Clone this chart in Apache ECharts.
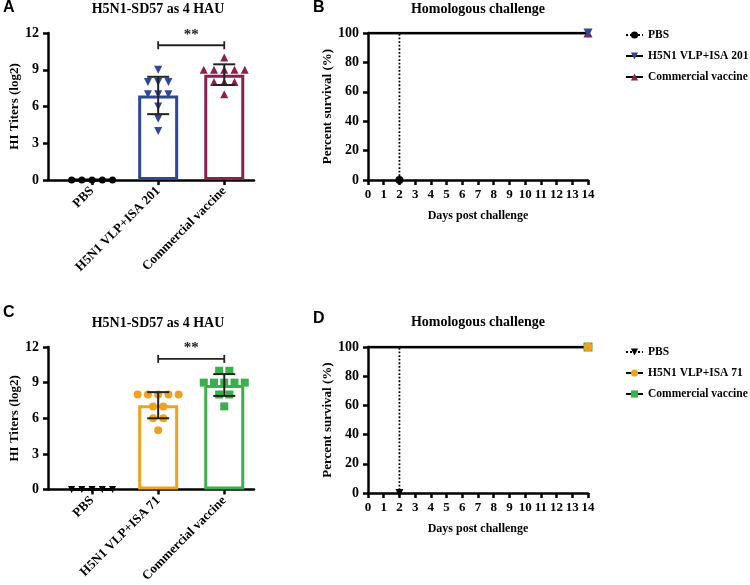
<!DOCTYPE html>
<html><head><meta charset="utf-8">
<script src="https://cdn.jsdelivr.net/npm/echarts@6/dist/echarts.min.js"></script>
<style>html,body{margin:0;padding:0;background:#fff}#c{width:750px;height:585px}</style>
</head><body><div id="c"></div>
<script>
// ---------- data ----------
const groupsA = ['PBS', 'H5N1 VLP+ISA 201', 'Commercial vaccine'];
const groupsC = ['PBS', 'H5N1 VLP+ISA 71', 'Commercial vaccine'];
const hiA_PBS = [0, 0, 0, 0, 0];
const hiA_VLP = [9, 8, 8, 8, 7, 7, 7, 6, 5, 4];
const hiA_COM = [10, 9, 9, 9, 9, 9, 8, 8, 8, 7];
const hiC_PBS = [0, 0, 0, 0, 0];
const hiC_VLP = [8, 8, 8, 8, 8, 7, 7, 6, 6, 5];
const hiC_COM = [10, 10, 9, 9, 9, 9, 9, 8, 8, 7];
const hiTicks = [0, 3, 6, 9, 12];
const sigLabel = '**';
const sigLevel = 11;          // bracket height (log2)
const sigPair = [1, 2];       // compared groups
const dayTicks = [0, 1, 2, 3, 4, 5, 6, 7, 8, 9, 10, 11, 12, 13, 14];
const survTicks = [0, 20, 40, 60, 80, 100];
const survB_PBS = [[0, 100], [2, 0]];
const survB_VLP = [[0, 100], [14, 100]];
const survB_COM = [[0, 100], [14, 100]];
const survD_PBS = [[0, 100], [2, 0]];
const survD_VLP = [[0, 100], [14, 100]];
const survD_COM = [[0, 100], [14, 100]];
const titleHI = 'H5N1-SD57 as 4 HAU';
const titleSurv = 'Homologous challenge';

// ---------- styles ----------
const SERIF = 'Liberation Serif';
const BLUE = '#2F4797', MAG = '#8C1F52', ORA = '#EEA21F', GRN = '#3BB04A', ERR = '#222';

function mean(a) { return a.reduce((s, v) => s + v, 0) / a.length; }
function sd(a) { const m = mean(a); return Math.sqrt(a.reduce((s, v) => s + (v - m) * (v - m), 0) / (a.length - 1)); }
function jitter(vals, cx, step) {
  const counts = {}, seen = {};
  vals.forEach(v => counts[v] = (counts[v] || 0) + 1);
  return vals.map(v => {
    const k = counts[v]; const j = seen[v] || 0; seen[v] = j + 1;
    return [cx + (j - (k - 1) / 2) * step, v];
  });
}

const axisLineStyle = { show: true, onZero: false, lineStyle: { color: '#000', width: 2.5 } };
const tickStyle = { show: true, length: 5, inside: false, lineStyle: { color: '#000', width: 2.5 } };
const lblStyle = { color: '#000', fontFamily: SERIF, fontWeight: 'bold', fontSize: 14 };

const grids = [
  { left: 48, top: 33, width: 206, height: 147 },
  { left: 368, top: 33, width: 220, height: 147 },
  { left: 48, top: 347, width: 206, height: 146 },
  { left: 368, top: 347, width: 220, height: 146 }
];

function hiX(gi, names) {
  return {
    gridIndex: gi, type: 'value', min: -0.667, max: 2.45,
    axisLine: axisLineStyle, splitLine: { show: false },
    axisTick: Object.assign({}, tickStyle, { customValues: [0, 1, 2] }),
    axisLabel: Object.assign({}, lblStyle, { fontSize: 13, customValues: [0, 1, 2], rotate: 45, margin: 9, formatter: v => names[Math.round(v)] })
  };
}
function hiY(gi) {
  return {
    gridIndex: gi, type: 'value', min: hiTicks[0], max: hiTicks[hiTicks.length - 1], interval: hiTicks[1] - hiTicks[0],
    axisLine: axisLineStyle, axisTick: tickStyle, splitLine: { show: false },
    axisLabel: Object.assign({}, lblStyle, { margin: 9 }),
    name: 'HI Titers (log2)', nameLocation: 'middle', nameRotate: 90, nameGap: 26,
    nameTextStyle: { color: '#000', fontFamily: SERIF, fontWeight: 'bold', fontSize: 13 }
  };
}
function survX(gi) {
  return {
    gridIndex: gi, type: 'value', min: dayTicks[0], max: dayTicks[dayTicks.length - 1], interval: 1,
    axisLine: axisLineStyle, axisTick: tickStyle, splitLine: { show: false },
    axisLabel: Object.assign({}, lblStyle, { fontSize: 13, margin: 8 }),
    name: 'Days post challenge', nameLocation: 'middle', nameGap: 30,
    nameTextStyle: { color: '#000', fontFamily: SERIF, fontWeight: 'bold', fontSize: 12 }
  };
}
function survY(gi) {
  return {
    gridIndex: gi, type: 'value', min: 0, max: 100, interval: 20,
    axisLine: axisLineStyle, axisTick: tickStyle, splitLine: { show: false },
    axisLabel: Object.assign({}, lblStyle, { margin: 9 }),
    name: 'Percent survival (%)', nameLocation: 'middle', nameRotate: 90, nameGap: 28,
    nameTextStyle: { color: '#000', fontFamily: SERIF, fontWeight: 'bold', fontSize: 13 }
  };
}

function barSeries(ai, groupsVals, colors) {
  return {
    type: 'bar', name: 'bar' + ai, xAxisIndex: ai, yAxisIndex: ai, barWidth: 40, z: 1,
    data: groupsVals.map((g, i) => ({ value: [i, mean(g)], itemStyle: { color: '#fff', borderColor: colors[i], borderWidth: 3 } })),
    silent: true
  };
}
function dotSeries(ai, vals, cx, symbol, rot, color, size) {
  return {
    type: 'scatter', name: 'pts' + ai + '_' + cx, xAxisIndex: ai, yAxisIndex: ai, z: 3,
    symbol: symbol, symbolRotate: rot, symbolSize: size,
    itemStyle: { color: color, opacity: 1 },
    data: jitter(vals, cx, 0.155)
  };
}
function errSeries(ai, groupsVals) {
  return {
    type: 'custom', name: 'err' + ai, xAxisIndex: ai, yAxisIndex: ai, z: 4,
    data: groupsVals.map((g, i) => [i, mean(g) - sd(g), mean(g) + sd(g)]).filter(d => d[2] > 0),
    renderItem: function (params, api) {
      const top = api.coord([api.value(0), api.value(2)]);
      const bot = api.coord([api.value(0), api.value(1)]);
      const hw = 11, st = { stroke: ERR, lineWidth: 2 };
      return { type: 'group', children: [
        { type: 'line', shape: { x1: top[0], y1: top[1], x2: bot[0], y2: bot[1] }, style: st },
        { type: 'line', shape: { x1: top[0] - hw, y1: top[1], x2: top[0] + hw, y2: top[1] }, style: st },
        { type: 'line', shape: { x1: bot[0] - hw, y1: bot[1], x2: bot[0] + hw, y2: bot[1] }, style: st }
      ] };
    }
  };
}
function sigSeries(ai) {
  return {
    type: 'custom', name: 'sig' + ai, xAxisIndex: ai, yAxisIndex: ai, z: 5,
    data: [[sigPair[0], sigPair[1], sigLevel]],
    renderItem: function (params, api) {
      const a = api.coord([api.value(0), api.value(2)]);
      const b = api.coord([api.value(1), api.value(2)]);
      const st = { stroke: ERR, lineWidth: 1.8 };
      return { type: 'group', children: [
        { type: 'line', shape: { x1: a[0], y1: a[1], x2: b[0], y2: b[1] }, style: st },
        { type: 'line', shape: { x1: a[0], y1: a[1] - 4, x2: a[0], y2: a[1] + 4 }, style: st },
        { type: 'line', shape: { x1: b[0], y1: b[1] - 4, x2: b[0], y2: b[1] + 4 }, style: st },
        { type: 'text', style: { text: sigLabel, x: (a[0] + b[0]) / 2, y: a[1] - 3, align: 'center', verticalAlign: 'bottom', fill: '#222', font: 'bold 15px ' + SERIF } }
      ] };
    }
  };
}
function survSeries(ai, name, data, dashed, symbol, rot, color, size, z) {
  return {
    type: 'line', name: name, xAxisIndex: ai, yAxisIndex: ai, step: 'end', z: z,
    symbol: symbol, symbolRotate: rot, symbolSize: size, showSymbol: true,
    lineStyle: { color: '#000', width: dashed ? 1.8 : 2.5, type: dashed ? 'dotted' : 'solid' },
    itemStyle: { color: color, borderWidth: 0 },
    data: data.map((p, i) => i < data.length - 1 ? { value: p, symbol: 'none' } : { value: p }),
    animation: false
  };
}

const series = [
  barSeries(0, [hiA_PBS, hiA_VLP, hiA_COM], ['#000', BLUE, MAG]),
  dotSeries(0, hiA_PBS, 0, 'circle', 0, '#000', 7),
  dotSeries(0, hiA_VLP, 1, 'triangle', 180, BLUE, 8),
  dotSeries(0, hiA_COM, 2, 'triangle', 0, MAG, 8),
  errSeries(0, [hiA_PBS, hiA_VLP, hiA_COM]),
  sigSeries(0),
  barSeries(2, [hiC_PBS, hiC_VLP, hiC_COM], ['#000', ORA, GRN]),
  dotSeries(2, hiC_PBS, 0, 'triangle', 180, '#000', 7),
  dotSeries(2, hiC_VLP, 1, 'circle', 0, ORA, 8),
  dotSeries(2, hiC_COM, 2, 'rect', 0, GRN, 8),
  errSeries(2, [hiC_PBS, hiC_VLP, hiC_COM]),
  sigSeries(2),
  survSeries(1, 'PBS', survB_PBS, true, 'circle', 0, '#000', 8, 3),
  survSeries(1, 'Commercial vaccine', survB_COM, false, 'triangle', 0, MAG, 9, 4),
  survSeries(1, 'H5N1 VLP+ISA 201', survB_VLP, false, 'triangle', 180, BLUE, 9, 5),
  survSeries(3, 'PBS ', survD_PBS, true, 'triangle', 180, '#000', 8, 3),
  survSeries(3, 'Commercial vaccine ', survD_COM, false, 'rect', 0, GRN, 9, 4),
  survSeries(3, 'H5N1 VLP+ISA 71', survD_VLP, false, 'circle', 0, ORA, 9, 5)
];

const textEl = (txt, x, y, font, align) => ({
  type: 'text', x: x, y: y, silent: true,
  style: { text: txt, font: font, fill: '#000', align: align || 'center', verticalAlign: 'middle' }
});
const letterFont = 'bold 16px Liberation Sans';
const titleFont = 'bold 14px ' + SERIF;
const legendText = { color: '#000', fontFamily: SERIF, fontWeight: 'bold', fontSize: 11.5 };

const chart = echarts.init(document.getElementById('c'), null, { renderer: 'canvas' });
chart.setOption({
  animation: false,
  backgroundColor: '#fff',
  grid: grids,
  xAxis: [hiX(0, groupsA), survX(1), hiX(2, groupsC), survX(3)],
  yAxis: [hiY(0), survY(1), hiY(2), survY(3)],
  legend: [
    { orient: 'vertical', left: 620, top: 24, itemWidth: 17, itemHeight: 9, itemGap: 9,
      data: ['PBS', 'H5N1 VLP+ISA 201', 'Commercial vaccine'],
      textStyle: legendText, selectedMode: false },
    { orient: 'vertical', left: 620, top: 341, itemWidth: 17, itemHeight: 9, itemGap: 9,
      data: ['PBS ', 'H5N1 VLP+ISA 71', 'Commercial vaccine '],
      textStyle: legendText, selectedMode: false }
  ],
  graphic: [
    textEl('A', 3, 8, letterFont, 'left'),
    textEl('B', 313, 8, letterFont, 'left'),
    textEl('C', 3, 313, letterFont, 'left'),
    textEl('D', 313, 319, letterFont, 'left'),
    textEl(titleHI, 158, 9, titleFont),
    textEl(titleSurv, 478, 9, titleFont),
    textEl(titleHI, 158, 323, titleFont),
    textEl(titleSurv, 478, 322, titleFont)
  ],
  series: series
});
</script>
</body></html>
